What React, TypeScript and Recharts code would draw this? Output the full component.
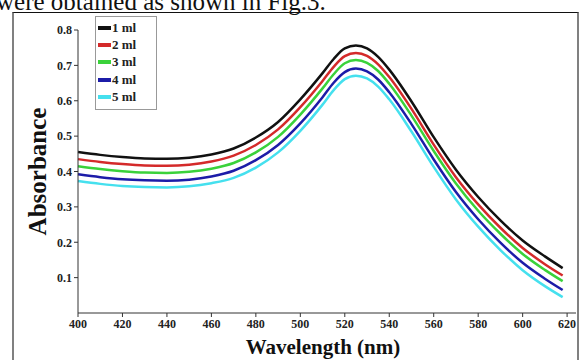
import { Label, Line, LineChart, XAxis, YAxis } from 'recharts';

const wavelengths = [400, 410, 420, 430, 440, 450, 460, 470, 480, 490, 500, 510, 515, 520, 525, 530, 535, 540, 550, 560, 570, 580, 590, 600, 610, 618];
const ml1 = [0.455, 0.447, 0.441, 0.437, 0.436, 0.439, 0.448, 0.465, 0.496, 0.54, 0.604, 0.678, 0.718, 0.748, 0.756, 0.748, 0.724, 0.688, 0.598, 0.497, 0.405, 0.328, 0.262, 0.205, 0.16, 0.127];
const ml2 = [0.435, 0.427, 0.421, 0.417, 0.416, 0.419, 0.428, 0.445, 0.475, 0.519, 0.582, 0.656, 0.696, 0.726, 0.735, 0.727, 0.703, 0.667, 0.577, 0.476, 0.384, 0.307, 0.241, 0.184, 0.138, 0.106];
const ml3 = [0.415, 0.407, 0.401, 0.397, 0.396, 0.399, 0.408, 0.424, 0.454, 0.498, 0.561, 0.635, 0.675, 0.706, 0.715, 0.707, 0.684, 0.648, 0.558, 0.458, 0.366, 0.289, 0.224, 0.167, 0.122, 0.09];
const ml4 = [0.392, 0.384, 0.378, 0.375, 0.374, 0.377, 0.386, 0.402, 0.432, 0.475, 0.536, 0.61, 0.651, 0.681, 0.691, 0.683, 0.66, 0.624, 0.534, 0.434, 0.342, 0.265, 0.199, 0.142, 0.097, 0.065];
const ml5 = [0.373, 0.365, 0.359, 0.356, 0.355, 0.358, 0.367, 0.382, 0.411, 0.454, 0.515, 0.589, 0.63, 0.661, 0.671, 0.663, 0.64, 0.604, 0.513, 0.413, 0.321, 0.244, 0.178, 0.121, 0.076, 0.045];

const xTicks = [400, 420, 440, 460, 480, 500, 520, 540, 560, 580, 600, 620];
const yTicks = [0.1, 0.2, 0.3, 0.4, 0.5, 0.6, 0.7, 0.8];

const series = [
  { key: 'ml1', name: '1 ml', color: '#111111' },
  { key: 'ml2', name: '2 ml', color: '#d42a2a' },
  { key: 'ml3', name: '3 ml', color: '#3ad23a' },
  { key: 'ml4', name: '4 ml', color: '#1c1ca8' },
  { key: 'ml5', name: '5 ml', color: '#45e0ee' },
];

const data = wavelengths.map((w, i) => ({
  w,
  ml1: ml1[i],
  ml2: ml2[i],
  ml3: ml3[i],
  ml4: ml4[i],
  ml5: ml5[i],
}));

const serif = '"Liberation Serif", "Times New Roman", serif';
const tickStyle = { fontSize: 12, fontWeight: 700, fill: '#222', fontFamily: serif };

// legend box sits inside the plot, top-left, like the original figure
function LegendBox() {
  return (
    <div
      style={{
        position: 'absolute',
        left: 95,
        top: 16,
        width: 62,
        boxSizing: 'border-box',
        border: '1px solid #999',
        background: '#fff',
        padding: '2px 4px 3px 2px',
        fontFamily: serif,
        fontWeight: 700,
        fontSize: 13,
        color: '#222',
      }}
    >
      {series.map((s) => (
        <div key={s.key} style={{ display: 'flex', alignItems: 'center', height: 17.4 }}>
          <span style={{ display: 'inline-block', width: 13, height: 4, background: s.color, marginRight: 1 }} />
          <span>{s.name}</span>
        </div>
      ))}
    </div>
  );
}

export default function App() {
  return (
    <div style={{ position: 'absolute', left: 0, top: 0, width: 579, height: 360, overflow: 'hidden', background: '#fff' }}>
      <svg width={579} height={20} style={{ position: 'absolute', left: 0, top: 0 }}>
        <text x={-4} y={10} fontSize={25} fontFamily={serif} fill="#111">
          were obtained as shown in Fig.3.
        </text>
      </svg>
      <div
        style={{
          position: 'absolute',
          left: 12,
          top: 12,
          width: 563,
          height: 360,
          borderLeft: '2px solid #808080',
          borderTop: '1px solid #111',
          borderRight: '2px solid #808080',
        }}
      />
      <div style={{ position: 'absolute', left: 0, top: 0 }}>
        <LineChart width={579} height={360} data={data} margin={{ top: 30, right: 3, bottom: 0, left: 0 }}>
          <XAxis
            dataKey="w"
            type="number"
            domain={[400, 624]}
            ticks={xTicks}
            tick={tickStyle}
            tickSize={4}
            height={47}
            stroke="#333"
            interval={0}
          >
            <Label
              value="Wavelength (nm)"
              position="insideBottom"
              offset={6}
              dx={-4}
              style={{ fontSize: 21, fontWeight: 700, fill: '#111', fontFamily: serif }}
            />
          </XAxis>
          <YAxis
            type="number"
            domain={[0, 0.8]}
            ticks={yTicks}
            tick={tickStyle}
            tickSize={4}
            width={78}
            stroke="#333"
            tickFormatter={(v: number) => v.toFixed(1)}
          >
            <Label
              value="Absorbance"
              angle={-90}
              position="center"
              dx={-2}
              style={{ fontSize: 25, fontWeight: 700, fill: '#111', fontFamily: serif, textAnchor: 'middle' }}
            />
          </YAxis>
          {series.map((s) => (
            <Line
              key={s.key}
              type="monotone"
              dataKey={s.key}
              name={s.name}
              stroke={s.color}
              strokeWidth={2.5}
              dot={false}
              isAnimationActive={false}
            />
          ))}
        </LineChart>
      </div>
      <LegendBox />
    </div>
  );
}
